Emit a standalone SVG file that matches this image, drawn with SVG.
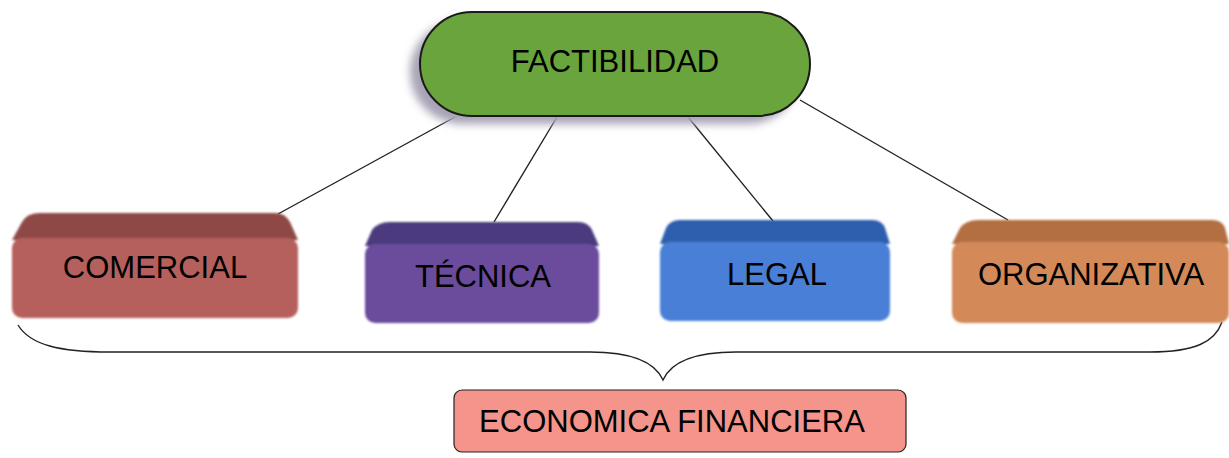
<svg xmlns="http://www.w3.org/2000/svg" width="1229" height="458" viewBox="0 0 1229 458">
<style>
.lbl{font-family:"Liberation Sans",Arial,sans-serif;font-size:31px;fill:#000;text-anchor:middle}
.con{stroke:#222;stroke-width:1.4;fill:none}
</style>
<defs>
<filter id="blur" x="-20%" y="-30%" width="140%" height="160%"><feGaussianBlur stdDeviation="4"/></filter>
<filter id="soft" x="-5%" y="-5%" width="110%" height="110%"><feGaussianBlur stdDeviation="1"/></filter>
</defs>
<rect width="1229" height="458" fill="#ffffff"/>
<g id="connectors">
<line class="con" x1="455" y1="117" x2="278" y2="214"/>
<line class="con" x1="557" y1="117" x2="494" y2="222"/>
<line class="con" x1="688" y1="117" x2="773" y2="221"/>
<line class="con" x1="800" y1="100" x2="1008" y2="220"/>
<path class="con" stroke-width="2" d="M18,325 C30,345 60,352 110,352 L590,352 C630,352 655,362 663,380 C671,362 696,352 736,352 L1150,352 C1195,352 1215,342 1222,322"/>
</g>
<g id="factibilidad">
<rect x="410" y="20" width="390" height="104" rx="52" fill="#a8a3b6" filter="url(#blur)"/>
<rect x="420" y="12" width="390" height="104" rx="52" fill="#6aa43c" stroke="#1a1a1a" stroke-width="2"/>
<text class="lbl" x="615" y="72">FACTIBILIDAD</text>
</g>
<g id="comercial">
<g filter="url(#soft)">
<path d="M40,213 L275,213 Q285,213 290,222 L298,240 L12,240 L22,222 Q27,213 40,213 Z" fill="#8e4846"/>
<rect x="12" y="238" width="286" height="80" rx="10" fill="#b5615b"/>
</g>
<text class="lbl" x="155" y="278">COMERCIAL</text>
</g>
<g id="tecnica">
<g filter="url(#soft)">
<path d="M390,222 L578,222 Q588,222 592,230 L599,246 L365,246 L372,230 Q378,222 390,222 Z" fill="#4c3a7e"/>
<rect x="365" y="244" width="234" height="79" rx="10" fill="#6a4c9c"/>
</g>
<text class="lbl" x="483" y="287">TÉCNICA</text>
</g>
<g id="legal">
<g filter="url(#soft)">
<path d="M680,220 L872,220 Q882,220 885,228 L890,244 L660,244 L666,228 Q670,220 680,220 Z" fill="#2e5fae"/>
<rect x="660" y="242" width="230" height="79" rx="10" fill="#4a7fd6"/>
</g>
<text class="lbl" x="777" y="285">LEGAL</text>
</g>
<g id="organizativa">
<g filter="url(#soft)">
<path d="M978,220 L1212,220 Q1222,220 1225,228 L1229,244 L952,244 L960,228 Q966,220 978,220 Z" fill="#b36e42"/>
<rect x="952" y="242" width="277" height="81" rx="10" fill="#d38a58"/>
</g>
<text class="lbl" x="1091" y="285">ORGANIZATIVA</text>
</g>
<g id="economica">
<rect x="454" y="390" width="452" height="62" rx="8" fill="#f4948a" stroke="#222" stroke-width="1.2"/>
<text class="lbl" x="672" y="432">ECONOMICA FINANCIERA</text>
</g>
</svg>
